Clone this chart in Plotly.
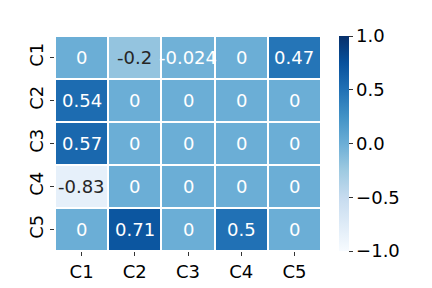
import plotly.graph_objects as go

labels = ["C1", "C2", "C3", "C4", "C5"]
row_c1 = [0, -0.2, -0.024, 0, 0.47]
row_c2 = [0.54, 0, 0, 0, 0]
row_c3 = [0.57, 0, 0, 0, 0]
row_c4 = [-0.83, 0, 0, 0, 0]
row_c5 = [0, 0.71, 0, 0.5, 0]
z = [row_c1, row_c2, row_c3, row_c4, row_c5]

FONT = "DejaVu Sans"

fig = go.Figure(go.Heatmap(
    z=z, x=labels, y=labels,
    colorscale="Blues", zmin=-1, zmax=1,
    xgap=2, ygap=2,
    colorbar=dict(
        thickness=10, len=1.0, lenmode="fraction",
        x=1.068, xanchor="left", xpad=0, y=0.5, yanchor="middle", ypad=0,
        outlinewidth=0,
        tickvals=[-1, -0.5, 0, 0.5, 1], tickformat=".1f",
        ticks="outside", ticklen=4, tickcolor="#333",
        tickfont=dict(family=FONT, size=18, color="black"),
    ),
    hoverinfo="skip",
))

annotations = []
for i, row in enumerate(z):
    for j, v in enumerate(row):
        txt = f"{v:g}"
        color = "#262626" if v <= -0.1 else "white"
        annotations.append(dict(
            x=labels[j], y=labels[i], text=txt, showarrow=False,
            font=dict(family=FONT, size=18, color=color),
            xref="x", yref="y",
        ))

fig.update_layout(
    width=432, height=288,
    margin=dict(l=47, r=119, t=28, b=45, autoexpand=False),
    paper_bgcolor="white", plot_bgcolor="white",
    annotations=annotations,
    xaxis=dict(showgrid=False, zeroline=False, showline=False, automargin=False,
               ticks="outside", ticklen=4, tickcolor="#333",
               tickfont=dict(family=FONT, size=18, color="black")),
    yaxis=dict(showgrid=False, zeroline=False, showline=False, automargin=False,
               autorange="reversed", tickangle=-90,
               ticks="outside", ticklen=4, tickcolor="#333",
               tickfont=dict(family=FONT, size=18, color="black")),
)

fig.write_html("out.html")
